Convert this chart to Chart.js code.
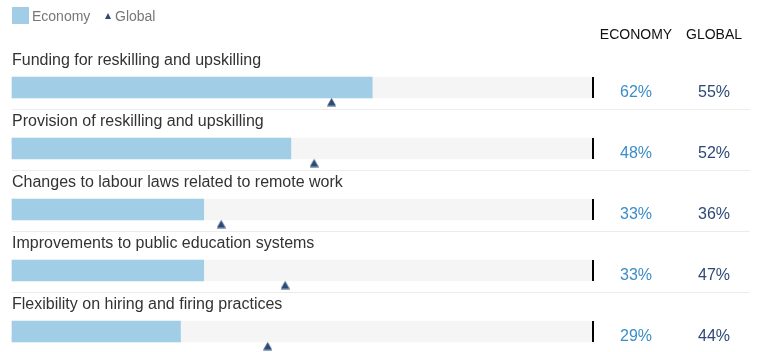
<!DOCTYPE html>
<html>
<head>
<meta charset="utf-8">
<script src="https://cdn.jsdelivr.net/npm/chart.js@4.4.0/dist/chart.umd.min.js"></script>
<style>
html,body{margin:0;padding:0;background:#fff;}
canvas{display:block;}
</style>
</head>
<body>
<canvas id="c" width="758" height="352"></canvas>
<script>
const categories = [
  "Funding for reskilling and upskilling",
  "Provision of reskilling and upskilling",
  "Changes to labour laws related to remote work",
  "Improvements to public education systems",
  "Flexibility on hiring and firing practices"
];
const economyValues = [62, 48, 33, 33, 29];
const globalValues = [55, 52, 36, 47, 44];
const trackValues = [100, 100, 100, 100, 100];
const seriesNames = ["Economy", "Global"];
const columnHeaders = ["ECONOMY", "GLOBAL"];

const FONT = '"Liberation Sans", Arial, Helvetica, sans-serif';
const BAR_H = 21;
const ECON_COLOR = '#a1cde6';
const TRACK_COLOR = '#f5f5f5';
const TRI_COLOR = '#2c4a76';
const ECON_TEXT = '#3b8dc6';
const GLOBAL_TEXT = '#2d4a77';

// triangle marker image: triangle sits just below the bar's bottom edge
function makeTriangle() {
  const cv = document.createElement('canvas');
  const w = 9, h = 2 * (BAR_H / 2 + 8.5);
  cv.width = w; cv.height = Math.ceil(h);
  const g = cv.getContext('2d');
  const t0 = h / 2 + BAR_H / 2;
  g.fillStyle = TRI_COLOR;
  g.beginPath();
  g.moveTo(w / 2, t0);
  g.lineTo(w, t0 + 8);
  g.lineTo(0, t0 + 8);
  g.closePath();
  g.fill();
  return cv;
}
const triImg = makeTriangle();

const overlay = {
  id: 'overlay',
  beforeDatasetsDraw(chart) {
    const ctx = chart.ctx;
    const y = chart.scales.y;
    ctx.save();
    ctx.fillStyle = '#ececec';
    for (let i = 0; i < categories.length - 1; i++) {
      const yc = y.getPixelForValue(i);
      ctx.fillRect(12, Math.round(yc + 21), 738, 1);
    }
    ctx.restore();
  },
  afterDatasetsDraw(chart) {
    const ctx = chart.ctx;
    const x = chart.scales.x;
    const y = chart.scales.y;
    ctx.save();
    const colE = 636, colG = 714;
    categories.forEach((lab, i) => {
      const yc = y.getPixelForValue(i);
      // end marker
      ctx.fillStyle = '#000';
      ctx.fillRect(Math.round(x.getPixelForValue(100)) - 1, yc - BAR_H / 2, 2, BAR_H);
      // label
      ctx.font = '16px ' + FONT;
      ctx.fillStyle = '#333';
      ctx.textAlign = 'left';
      ctx.textBaseline = 'alphabetic';
      ctx.fillText(lab, 12, yc - 22.5);
      // values
      ctx.textAlign = 'center';
      ctx.fillStyle = ECON_TEXT;
      ctx.fillText(economyValues[i] + '%', colE, yc + 9);
      ctx.fillStyle = GLOBAL_TEXT;
      ctx.fillText(globalValues[i] + '%', colG, yc + 9);
    });
    // headers
    ctx.font = '14px ' + FONT;
    ctx.fillStyle = '#111';
    ctx.textAlign = 'center';
    ctx.fillText(columnHeaders[0], colE, 39);
    ctx.fillText(columnHeaders[1], colG, 39);
    // legend
    ctx.fillStyle = ECON_COLOR;
    ctx.fillRect(12, 7, 17, 17);
    ctx.font = '14px ' + FONT;
    ctx.fillStyle = '#777';
    ctx.textAlign = 'left';
    ctx.fillText(seriesNames[0], 32, 21);
    ctx.fillStyle = TRI_COLOR;
    ctx.beginPath();
    ctx.moveTo(108, 13);
    ctx.lineTo(111, 19);
    ctx.lineTo(105, 19);
    ctx.closePath();
    ctx.fill();
    ctx.fillStyle = '#777';
    ctx.fillText(seriesNames[1], 115, 21);
    ctx.restore();
  }
};

new Chart(document.getElementById('c'), {
  type: 'bar',
  data: {
    labels: categories,
    datasets: [
      {
        type: 'line',
        label: seriesNames[1],
        data: globalValues,
        indexAxis: 'y',
        showLine: false,
        pointStyle: triImg,
        clip: false,
        order: 0
      },
      {
        label: seriesNames[0],
        data: economyValues,
        backgroundColor: ECON_COLOR,
        barThickness: BAR_H,
        grouped: false,
        clip: false,
        order: 1
      },
      {
        label: 'track',
        data: trackValues,
        backgroundColor: TRACK_COLOR,
        barThickness: BAR_H,
        grouped: false,
        clip: false,
        order: 2
      }
    ]
  },
  options: {
    indexAxis: 'y',
    responsive: false,
    animation: false,
    events: [],
    layout: { padding: { left: 12, right: 165, top: 87.5, bottom: 20.5 } },
    scales: {
      x: { display: false, min: 0, max: 100 },
      y: { display: false, offset: false }
    },
    plugins: { legend: { display: false }, tooltip: { enabled: false } }
  },
  plugins: [overlay]
});
</script>
</body>
</html>
